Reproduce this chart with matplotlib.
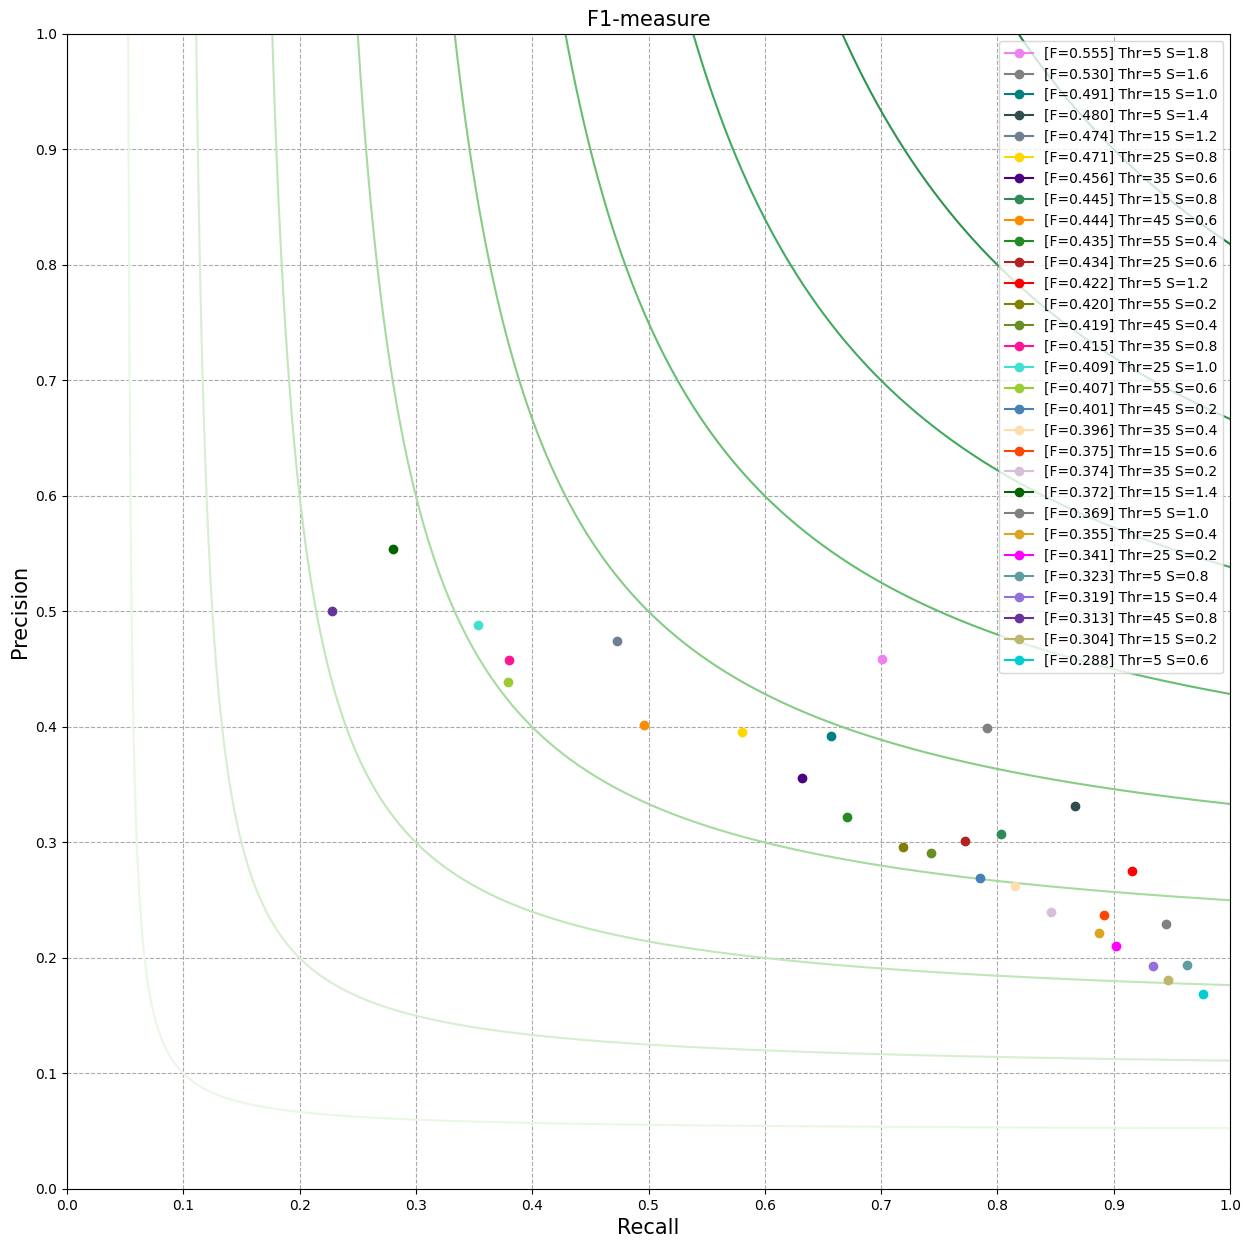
import numpy as np
import matplotlib
matplotlib.use("Agg")
import matplotlib.pyplot as plt

f_levels = [0.1, 0.2, 0.3, 0.4, 0.5, 0.6, 0.7, 0.8, 0.9]

labels = [
    "[F=0.555] Thr=5 S=1.8", "[F=0.530] Thr=5 S=1.6", "[F=0.491] Thr=15 S=1.0",
    "[F=0.480] Thr=5 S=1.4", "[F=0.474] Thr=15 S=1.2", "[F=0.471] Thr=25 S=0.8",
    "[F=0.456] Thr=35 S=0.6", "[F=0.445] Thr=15 S=0.8", "[F=0.444] Thr=45 S=0.6",
    "[F=0.435] Thr=55 S=0.4", "[F=0.434] Thr=25 S=0.6", "[F=0.422] Thr=5 S=1.2",
    "[F=0.420] Thr=55 S=0.2", "[F=0.419] Thr=45 S=0.4", "[F=0.415] Thr=35 S=0.8",
    "[F=0.409] Thr=25 S=1.0", "[F=0.407] Thr=55 S=0.6", "[F=0.401] Thr=45 S=0.2",
    "[F=0.396] Thr=35 S=0.4", "[F=0.375] Thr=15 S=0.6", "[F=0.374] Thr=35 S=0.2",
    "[F=0.372] Thr=15 S=1.4", "[F=0.369] Thr=5 S=1.0", "[F=0.355] Thr=25 S=0.4",
    "[F=0.341] Thr=25 S=0.2", "[F=0.323] Thr=5 S=0.8", "[F=0.319] Thr=15 S=0.4",
    "[F=0.313] Thr=45 S=0.8", "[F=0.304] Thr=15 S=0.2", "[F=0.288] Thr=5 S=0.6",
]

recall = [
    0.701, 0.791, 0.657, 0.867, 0.473, 0.580, 0.632, 0.803, 0.496, 0.671,
    0.772, 0.916, 0.719, 0.743, 0.380, 0.353, 0.379, 0.785, 0.815, 0.892,
    0.846, 0.280, 0.945, 0.887, 0.902, 0.963, 0.934, 0.228, 0.947, 0.977,
]

precision = [
    0.459, 0.399, 0.392, 0.332, 0.474, 0.396, 0.356, 0.307, 0.402, 0.322,
    0.301, 0.275, 0.296, 0.291, 0.458, 0.488, 0.439, 0.269, 0.262, 0.237,
    0.240, 0.554, 0.229, 0.222, 0.210, 0.194, 0.193, 0.500, 0.181, 0.169,
]

colors = [
    "violet", "gray", "teal", "darkslategray", "slategray", "gold",
    "indigo", "seagreen", "darkorange", "forestgreen", "firebrick", "red",
    "olive", "olivedrab", "deeppink", "turquoise", "yellowgreen", "steelblue",
    "navajowhite", "orangered", "thistle", "darkgreen", "gray", "goldenrod",
    "magenta", "cadetblue", "mediumpurple", "rebeccapurple", "darkkhaki", "darkturquoise",
]

fig = plt.figure(figsize=(12.5, 12.48), dpi=100)
ax = fig.add_axes([0.0536, 0.0473, 0.9304, 0.9255])

curve_colors = plt.cm.Greens(np.linspace(0.1, 0.8, len(f_levels)))
for f, c in zip(f_levels, curve_colors):
    r = np.linspace(f / 2 + 1e-4, 1.0, 4000)
    p = f * r / (2 * r - f)
    mask = p <= 1.5
    ax.plot(r[mask], p[mask], color=c, lw=1.5)

for r, p, c, lab in zip(recall, precision, colors, labels):
    ax.plot([r], [p], "o-", color=c, label=lab)

ax.set_xlim(0, 1)
ax.set_ylim(0, 1)
ax.set_xticks(np.arange(0, 1.01, 0.1))
ax.set_yticks(np.arange(0, 1.01, 0.1))
ax.grid(True, linestyle="--", color="#aaaaaa")
ax.set_xlabel("Recall", fontsize=15)
ax.set_ylabel("Precision", fontsize=15)
ax.set_title("F1-measure", fontsize=15)
ax.legend(loc="upper right", fontsize=10)

fig.savefig("out.png", dpi=100)
